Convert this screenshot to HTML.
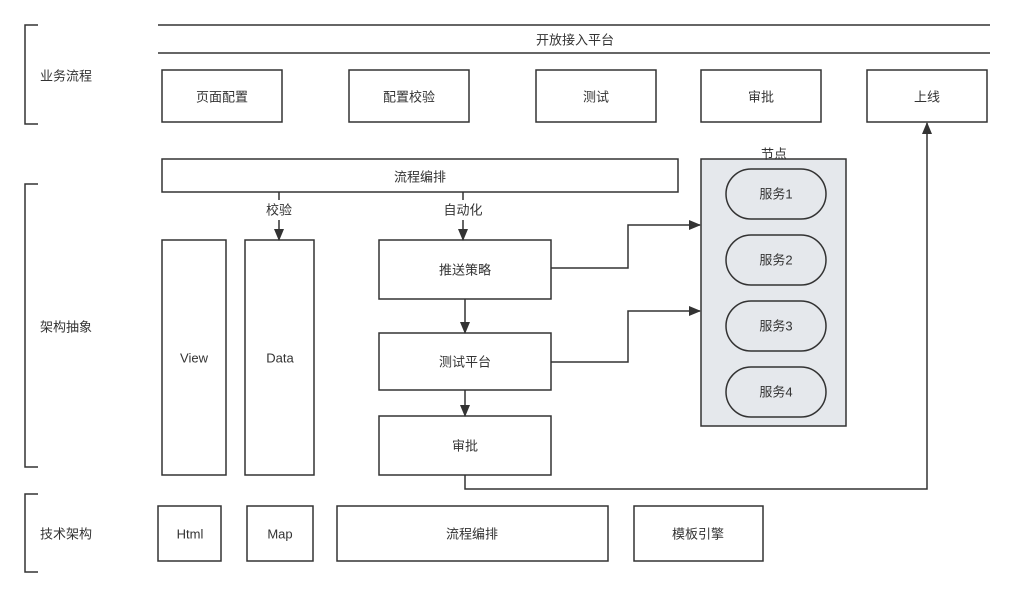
<!DOCTYPE html>
<html><head><meta charset="utf-8"><style>
html,body{margin:0;padding:0;background:#fff;}
svg{display:block;}
text{font-family:"Liberation Sans","Noto Sans CJK SC",sans-serif;font-size:13px;fill:#333;}
</style></head><body>
<svg width="1015" height="597" viewBox="0 0 1015 597" xmlns="http://www.w3.org/2000/svg">
<defs><marker id="a" markerWidth="12" markerHeight="10" refX="11" refY="5" orient="auto" markerUnits="userSpaceOnUse"><path d="M0,0 L12,5 L0,10 Z" fill="#333"/></marker></defs>
<g fill="none" stroke="#333" stroke-width="1.5">
<path d="M38,25 H25 V124 H38"/>
<path d="M38,184 H25 V467 H38"/>
<path d="M38,494 H25 V572 H38"/>
<path d="M158,25 H990 M158,53 H990"/>
<rect x="162" y="70" width="120" height="52"/>
<rect x="349" y="70" width="120" height="52"/>
<rect x="536" y="70" width="120" height="52"/>
<rect x="701" y="70" width="120" height="52"/>
<rect x="867" y="70" width="120" height="52"/>
<rect x="162" y="159" width="516" height="33"/>
<rect x="701" y="159" width="145" height="267" fill="#e5e8ec"/>
<rect x="726" y="169" width="100" height="50" rx="25"/>
<rect x="726" y="235" width="100" height="50" rx="25"/>
<rect x="726" y="301" width="100" height="50" rx="25"/>
<rect x="726" y="367" width="100" height="50" rx="25"/>
<rect x="162" y="240" width="64" height="235"/>
<rect x="245" y="240" width="69" height="235"/>
<rect x="379" y="240" width="172" height="59"/>
<rect x="379" y="333" width="172" height="57"/>
<rect x="379" y="416" width="172" height="59"/>
<rect x="158" y="506" width="63" height="55"/>
<rect x="247" y="506" width="66" height="55"/>
<rect x="337" y="506" width="271" height="55"/>
<rect x="634" y="506" width="129" height="55"/>
<path d="M279,192 V200 M279,220 V240" marker-end="url(#a)"/>
<path d="M463,192 V200 M463,220 V240" marker-end="url(#a)"/>
<path d="M551,268 H628 V225 H700" marker-end="url(#a)"/>
<path d="M551,362 H628 V311 H700" marker-end="url(#a)"/>
<path d="M465,299 V333" marker-end="url(#a)"/>
<path d="M465,390 V416" marker-end="url(#a)"/>
<path d="M465,475 V489 H927 V123" marker-end="url(#a)"/>
</g>
<g text-anchor="middle" dominant-baseline="central">
<text x="575" y="40">开放接入平台</text>
<text x="222" y="97">页面配置</text>
<text x="409" y="97">配置校验</text>
<text x="596" y="97">测试</text>
<text x="761" y="97">审批</text>
<text x="927" y="97">上线</text>
<text x="420" y="177">流程编排</text>
<text x="774" y="154">节点</text>
<text x="776" y="194">服务1</text>
<text x="776" y="260">服务2</text>
<text x="776" y="326">服务3</text>
<text x="776" y="392">服务4</text>
<text x="279" y="210">校验</text>
<text x="463" y="210">自动化</text>
<text x="194" y="358">View</text>
<text x="280" y="358">Data</text>
<text x="465" y="270">推送策略</text>
<text x="465" y="362">测试平台</text>
<text x="465" y="446">审批</text>
<text x="190" y="534">Html</text>
<text x="280" y="534">Map</text>
<text x="472" y="534">流程编排</text>
<text x="698" y="534">模板引擎</text>
</g>
<g dominant-baseline="central">
<text x="40" y="76">业务流程</text>
<text x="40" y="327">架构抽象</text>
<text x="40" y="534">技术架构</text>
</g>
</svg>
</body></html>
